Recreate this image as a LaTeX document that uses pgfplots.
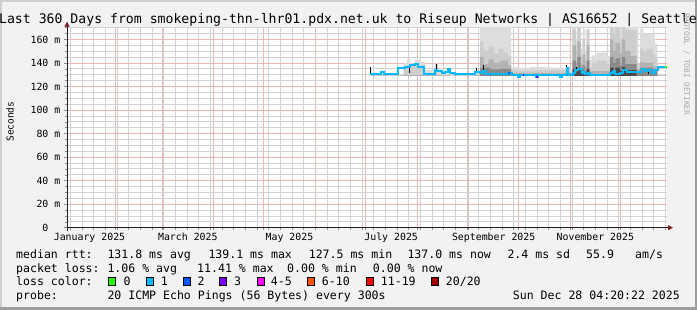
\documentclass[border=0pt]{standalone}
\usepackage{fontspec}
\setmainfont{DejaVu Sans Mono}
\usepackage{pgfplots}
\pgfplotsset{compat=1.18}
\usetikzlibrary{arrows.meta}
\definecolor{bg}{HTML}{F2F2F2}
\definecolor{shadeA}{HTML}{CFCFCF}
\definecolor{shadeB}{HTML}{9E9E9E}
\definecolor{mgrid}{HTML}{EFB6B6}
\definecolor{mingrid}{HTML}{D2D2D2}
\definecolor{arrowc}{HTML}{801F1F}
\definecolor{axisc}{HTML}{1F1F1F}
\definecolor{lc0}{HTML}{26FF00}
\definecolor{lc1}{HTML}{00B8FF}
\definecolor{lc2}{HTML}{0059FF}
\definecolor{lc3}{HTML}{7E00FF}
\definecolor{lc4}{HTML}{FF00FF}
\definecolor{lc6}{HTML}{FF5500}
\definecolor{lc11}{HTML}{FF0000}
\definecolor{lc20}{HTML}{A10000}
\definecolor{s1}{HTML}{DDDDDD}
\definecolor{s2}{HTML}{CDCDCD}
\definecolor{s3}{HTML}{B2B2B2}
\definecolor{s4}{HTML}{8A8A8A}
\definecolor{s5}{HTML}{4A4A4A}
\definecolor{wm}{HTML}{A8A8A8}
\newcommand{\lgf}{\fontsize{11.55pt}{13pt}\selectfont}
\begin{document}
\begin{tikzpicture}
\useasboundingbox (0,0) rectangle (697pt,310pt);
\clip (0,0) rectangle (697pt,310pt);
\fill[bg] (0,0) rectangle (697pt,310pt);
\fill[shadeA] (0,0) rectangle (2pt,310pt);
\fill[shadeA] (0,308pt) rectangle (697pt,310pt);
\fill[shadeB] (0,0) rectangle (697pt,2.5pt);
\fill[shadeB] (694.5pt,0) rectangle (697pt,310pt);
\begin{axis}[
  at={(67pt,82.3pt)}, anchor=south west,
  scale only axis, width=600pt, height=200pt,
  xmin=2, xmax=362, ymin=0, ymax=170,
  axis lines=left,
  axis background/.style={fill=white},
  axis line style={draw=axisc, line width=0.8pt},
  x axis line style={-{Triangle[length=5pt,width=5pt,color=arrowc,fill=arrowc]}, shorten >=-6pt, shorten <=-3pt},
  y axis line style={-{Triangle[length=5pt,width=5pt,color=arrowc,fill=arrowc]}, shorten >=-6pt, shorten <=-3pt},
  xtick={31,59,90,120,151,181,212,243,273,304,334},
  xticklabels={},
  minor xtick={4,11,...,361},
  ytick={20,40,...,160},
  yticklabels={20 m,40 m,60 m,80 m,100 m,120 m,140 m,160 m},
  minor ytick={5,10,...,170},
  grid=both,
  major grid style={draw=mgrid, line width=0.9pt},
  minor grid style={draw=mingrid, line width=0.8pt},
  major tick length=2.5pt, minor tick length=2pt, tick align=outside,
  tick style={draw=axisc!50, line width=0.5pt},
  extra x ticks={15.5,74.5,135.5,196.5,258,319},
  extra x tick labels={January 2025,March 2025,May 2025,July 2025,September 2025,November 2025},
  extra x tick style={grid=none, major tick length=0pt},
  extra y ticks={0}, extra y tick labels={0\hphantom{00}}, extra y tick style={grid=none},
  tick label style={font=\fontsize{9.88pt}{11pt}\selectfont, inner sep=0pt},
  xticklabel style={anchor=north, yshift=-5pt},
  yticklabel style={anchor=east, xshift=-4pt},
]
% smoke layers
\addplot[draw=none, fill=s1, const plot] coordinates {
(183.8,129) (204,140) (206,143.8) (208,139.5) (210.8,142.4) (214,141) (216.8,134) (222.8,139.5) (224.8,133) (226.8,129)
(246.8,133.5) (249.8,175) (268.4,136.5) (272,135.5) (280,136.5) (290,136) (296,135.5) (301.8,137) (303.8,134)
(305.4,175) (307.4,160) (308.2,175) (310.2,152) (311.4,169) (312.8,150) (313.8,175) (315.4,143) (317,146.5) (319,148.5) (323,149) (326,146)
(327.8,175) (344.8,140) (345.8,169) (347.8,165) (354.8,156) (356.2,129) (361.4,129) (361.4,129) (183.8,129)};
\addplot[draw=none, fill=s2, const plot] coordinates {
(183.8,129) (204,136.5) (207,138.5) (212,138) (216.8,129) (222.8,136) (224.5,129)
(249.8,158) (252,150) (255,154) (258,148) (261,152) (264,149) (266.5,146) (268.4,134) (272,133.5) (284,134) (296,134) (301.8,135) (303.8,132)
(305.4,168) (307.4,150) (308.2,170) (310.2,146) (311.4,160) (312.8,143) (313.8,168) (315.4,136) (317,140) (320,142) (324,141.5) (326,139)
(327.8,172) (329.8,165) (331,170) (333.8,160) (335,172) (336.8,168) (343.8,140) (345.8,152) (347.8,150) (350,152) (353.8,147) (354.8,145) (356.2,129) (361.4,129) (361.4,129) (183.8,129)};
\addplot[draw=none, fill=s3, const plot] coordinates {
(183.8,129) (249.8,145) (252,139) (255,143) (258,140) (262,142) (266.5,138) (268.4,131.5) (301.8,131.5) (303.8,129)
(305.4,155) (307.4,140) (308.2,158) (310.2,139) (311.4,147) (312.8,137) (313.8,155) (315.4,133)
(327.8,160) (329.8,150) (331,157) (333.8,148) (335,160) (336.8,150) (340,146) (343.8,135) (345.8,141) (347.8,140) (353.8,137) (356.2,129) (361.4,129) (361.4,129) (183.8,129)};
\addplot[draw=none, fill=s4, const plot] coordinates {
(183.8,129) (249.8,136) (256,134.5) (262,135) (268.4,129)
(305.4,142) (307.4,135) (308.2,145) (310.2,134) (311.4,138) (312.8,133) (313.8,142) (315.4,129)
(327.8,145) (329.8,140) (331,144) (333.8,138) (335,145) (336.8,139) (343.8,132) (345.8,136) (353.8,134) (356.2,129) (361.4,129) (361.4,129) (183.8,129)};
\addplot[draw=none, fill=s5, const plot] coordinates {
(183.8,129) (305.4,135) (307.4,132) (308.2,136) (310.2,131.5) (313.8,135) (315.4,129)
(327.8,136) (329.8,134) (331,136) (333.8,133) (335,136.5) (336.8,134) (343.8,129) (361.4,129) (361.4,129) (183.8,129)};
% black spikes
\addplot[black, line width=1pt] coordinates {(183.9,130.5) (183.9,137)};
\addplot[black, line width=1pt] coordinates {(207.4,131.9) (207.4,138)};
\addplot[black, line width=1pt] coordinates {(223.4,133.9) (223.4,138.8)};
\addplot[black, line width=1pt] coordinates {(247.8,132.5) (247.8,135.5)};
\addplot[black, line width=1pt] coordinates {(252.0,131) (252.0,138.1)};
\addplot[black, line width=1pt] coordinates {(301.4,130.5) (301.4,138.2)};
\addplot[black, line width=1pt] coordinates {(307.8,133.9) (307.8,136.7)};
\addplot[black, line width=1pt] coordinates {(329.5,131) (329.5,134.5)};
\addplot[black, line width=1pt] coordinates {(335.5,131) (335.5,134.5)};
\addplot[black, line width=1pt] coordinates {(347.5,133) (347.5,135.5)};
\addplot[black, line width=1pt] coordinates {(351,131) (351,135)};
\addplot[black, line width=1pt] coordinates {(355,131) (355,134.5)};
% median
\addplot[const plot, draw=lc1, line width=2pt] coordinates {
(183.8,130.5) (190.2,132.5) (192.2,130.5) (200.8,135.9) (204.8,136.7) (207.8,138.1) (210.8,138.9) (212.8,136.7) (216.2,130.5)
(222.8,133.9) (224.2,133.0) (226.8,131.1) (228.8,132.5) (230.8,134.5) (231.8,131.6) (234.8,130.5) (246.8,132.5) (249.8,131.1)
(251.8,133.5) (253.2,130.5) (266.8,131.6) (268.8,129.6) (272.8,127.7) (273.6,129.6) (283.2,127.7) (284.4,129.6) (297.8,128.2)
(298.8,129.6) (301.8,135.5) (302.6,130.5) (303.8,130.2) (305.8,131.6) (306.8,133.9) (308.8,135.3) (310.8,131.1) (311.8,132.5)
(312.8,130.5) (314.8,131.6) (315.8,129.6) (327.8,131.1) (329.8,133.0) (330.8,130.5) (333.8,131.1) (335.8,133.9) (337.8,132.5)
(346.8,134.7) (348.8,133.0) (350.8,134.2) (352.8,131.1) (354.8,133.9) (356.8,136.7) (361.0,136.7)};
\addplot[draw=lc2, line width=2pt] coordinates {(266.8,131.6) (267.8,131.6)};
\addplot[draw=lc3, line width=2pt] coordinates {(275.4,129.6) (276.4,129.6)};
\addplot[draw=lc3, line width=2pt] coordinates {(283.2,127.7) (284.4,127.7)};
\addplot[draw=lc0, line width=2pt] coordinates {(361.0,136.7) (361.7,136.7)};
\end{axis}
% title
\node[anchor=base, inner sep=0pt, font=\fontsize{13.17pt}{15pt}\selectfont] at (348pt,286pt)
  {Last 360 Days from smokeping-thn-lhr01.pdx.net.uk to Riseup Networks | AS16652 | Seattle};
% y label
\node[rotate=90, inner sep=0pt, font=\fontsize{9.5pt}{11pt}\selectfont] at (10pt,188.3pt) {Seconds};
% watermark
\node[rotate=-90, inner sep=0pt, text=wm, font=\fontsize{7.7pt}{9pt}\selectfont] at (686.5pt,246pt) {RRDTOOL / TOBI OETIKER};
% legend
\begin{scope}[every node/.style={anchor=base west, inner sep=0pt, font=\lgf}]
\node at (16pt,51.7pt) {median rtt:};
\node at (107.3pt,51.7pt) {131.8 ms avg};
\node at (208.3pt,51.7pt) {139.1 ms max};
\node at (308.6pt,51.7pt) {127.5 ms min};
\node at (407.3pt,51.7pt) {137.0 ms now};
\node at (507.3pt,51.7pt) {2.4 ms sd};
\node at (586pt,51.7pt) {55.9};
\node at (635pt,51.7pt) {am/s};
\node at (16pt,37.7pt) {packet loss:};
\node at (107.3pt,37.7pt) {1.06 \% avg};
\node at (197pt,37.7pt) {11.41 \% max};
\node at (287pt,37.7pt) {0.00 \% min};
\node at (372.7pt,37.7pt) {0.00 \% now};
\node at (16pt,24pt) {loss color:};
\node at (123.3pt,24pt) {0};
\node at (160.7pt,24pt) {1};
\node at (197.3pt,24pt) {2};
\node at (234pt,24pt) {3};
\node at (270.7pt,24pt) {4-5};
\node at (321.7pt,24pt) {6-10};
\node at (380.7pt,24pt) {11-19};
\node at (445.7pt,24pt) {20/20};
\node at (16pt,10pt) {probe:};
\node at (107.3pt,10pt) {20 ICMP Echo Pings (56 Bytes) every 300s};
\node[anchor=base east] at (680pt,10pt) {Sun Dec 28 04:20:22 2025};
\end{scope}
\begin{scope}[line width=0.8pt, draw=black]
\filldraw[fill=lc0] (108.7pt,24.7pt) rectangle (115.7pt,32.3pt);
\filldraw[fill=lc1] (146.1pt,24.7pt) rectangle (153.1pt,32.3pt);
\filldraw[fill=lc2] (183.1pt,24.7pt) rectangle (190.1pt,32.3pt);
\filldraw[fill=lc3] (219.7pt,24.7pt) rectangle (226.7pt,32.3pt);
\filldraw[fill=lc4] (257.1pt,24.7pt) rectangle (264.1pt,32.3pt);
\filldraw[fill=lc6] (307.7pt,24.7pt) rectangle (314.7pt,32.3pt);
\filldraw[fill=lc11] (366.1pt,24.7pt) rectangle (373.1pt,32.3pt);
\filldraw[fill=lc20] (431.4pt,24.7pt) rectangle (438.4pt,32.3pt);
\end{scope}
\end{tikzpicture}
\end{document}
